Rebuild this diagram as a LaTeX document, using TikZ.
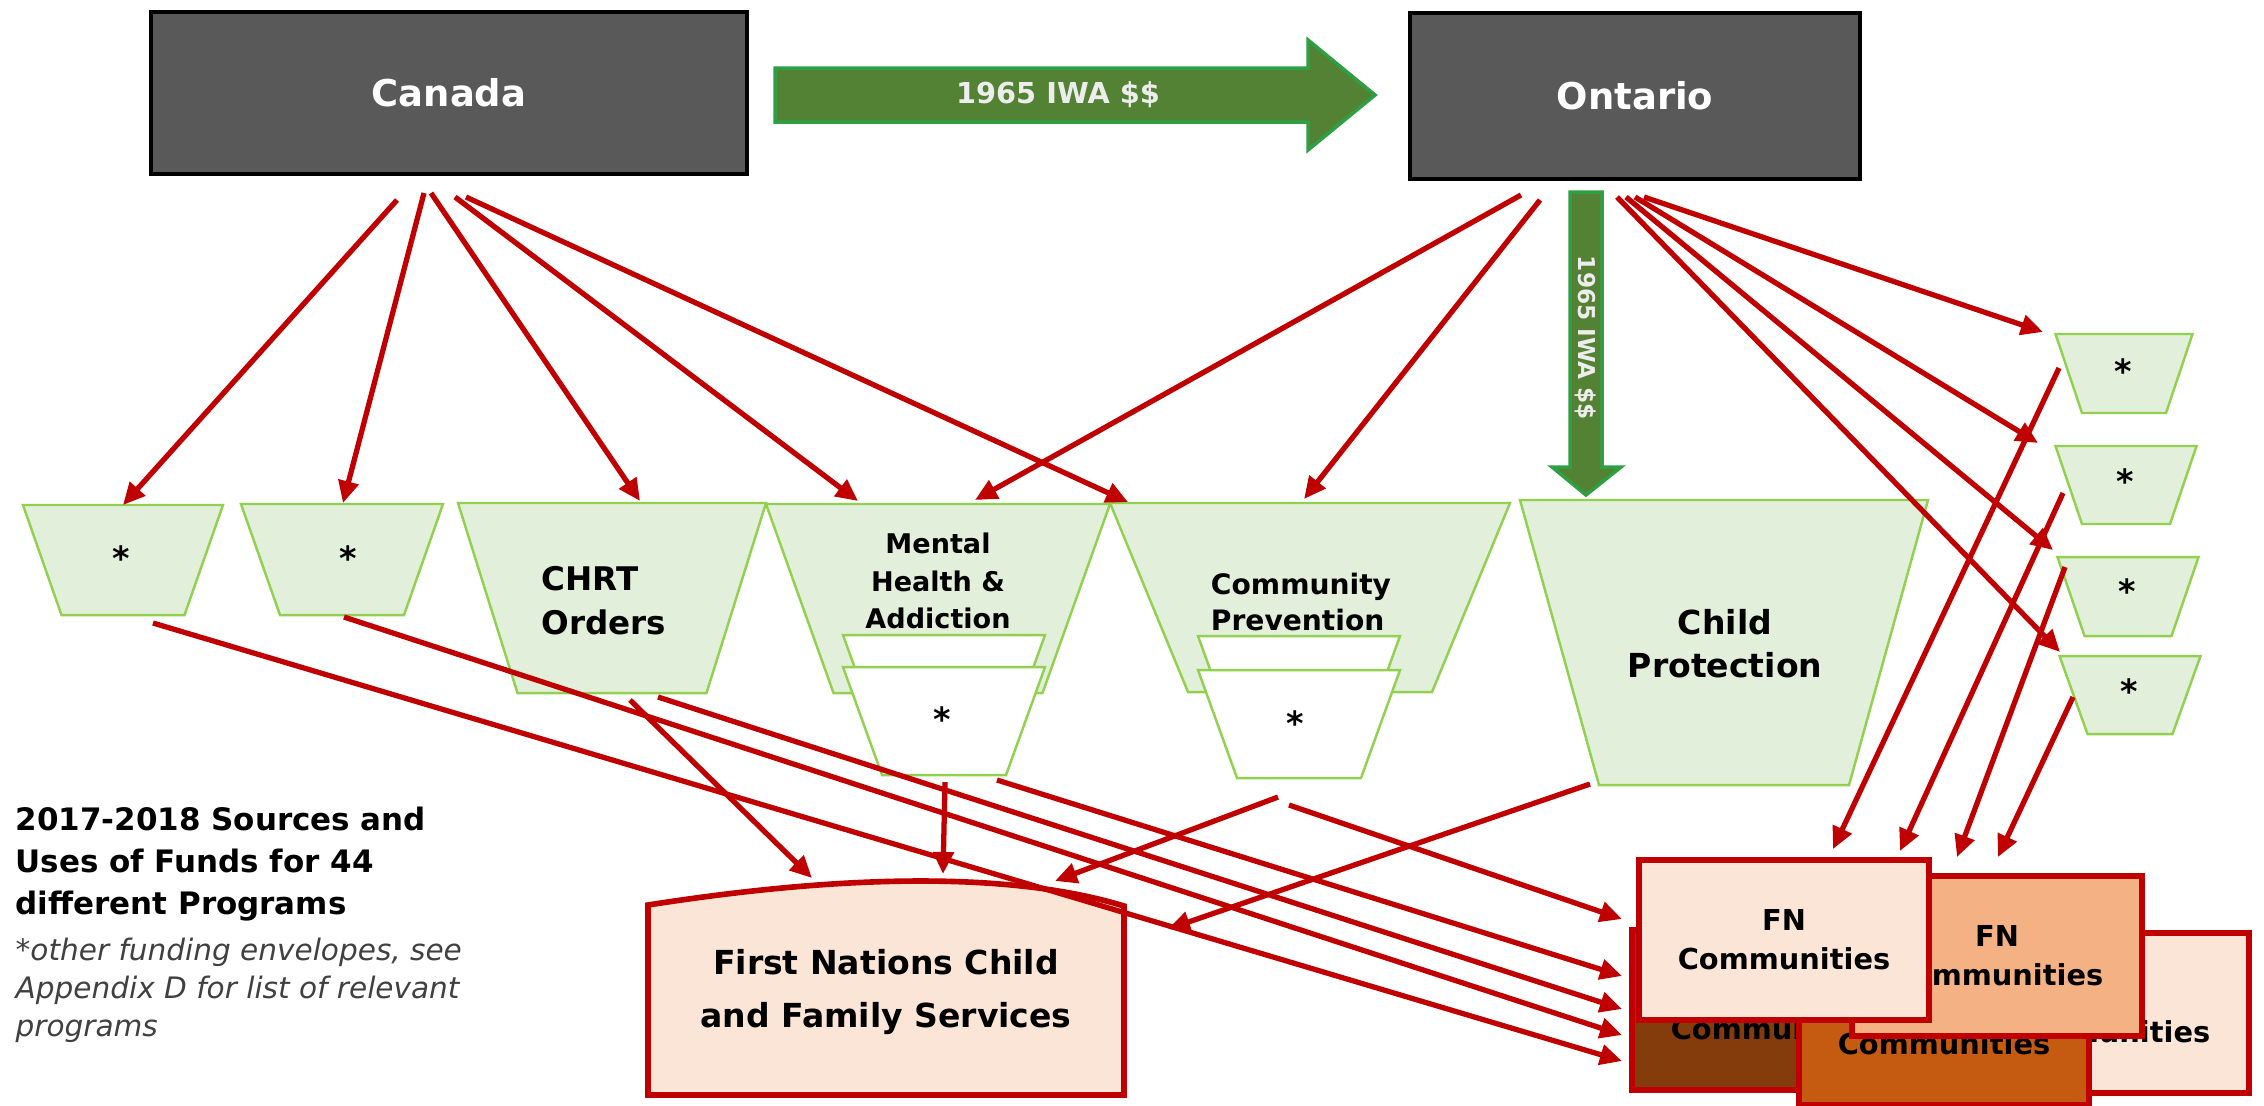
\documentclass[tikz,border=0pt]{standalone}
\usepackage{fontspec}
\setmainfont{DejaVu Sans}[BoldFont={DejaVu Sans Bold},ItalicFont={DejaVu Sans Oblique}]
\usetikzlibrary{arrows.meta}

\definecolor{flowred}{HTML}{C00000}
\definecolor{govgray}{HTML}{595959}
\definecolor{fundfill}{HTML}{E2EFDA}
\definecolor{funddraw}{HTML}{92D050}
\definecolor{iwafill}{HTML}{548235}
\definecolor{iwadraw}{HTML}{2EA043}
\definecolor{peach}{HTML}{FBE5D6}
\definecolor{apricot}{HTML}{F4B183}
\definecolor{rust}{HTML}{C55A11}
\definecolor{umber}{HTML}{843C0C}

\begin{document}
\begin{tikzpicture}[x=0.01cm,y=-0.01cm,>={Triangle[length=0.22cm,width=0.2cm]},
    flow/.style={->,draw=flowred,line width=1.5pt},
    govbox/.style={draw=black,line width=1.2pt,fill=govgray,text=white,
        minimum width=5.9cm,minimum height=1.62cm,font=\fontsize{10.5}{12}\selectfont\bfseries},
    fund/.style={draw=funddraw,line width=0.7pt,fill=fundfill},
    subfund/.style={draw=funddraw,line width=0.7pt,fill=white},
    iwa/.style={draw=iwadraw,line width=1pt,fill=iwafill},
    envmark/.style={inner sep=0,font=\fontsize{9.5}{11}\selectfont\bfseries},
    fnbox/.style={draw=flowred,line width=1.6pt,minimum width=2.9cm,minimum height=1.6cm,
        align=center,font=\fontsize{8.2}{11}\selectfont\bfseries}]
    \useasboundingbox (0,0) rectangle (2264,1105);

    % governments and the IWA transfer
    \node[govbox,minimum width=5.95cm] (canada) at (449,93) {Canada};
    \node[govbox,minimum width=4.5cm,minimum height=1.66cm] (ontario) at (1635,96) {Ontario};
    \draw[iwa] (775,68) -- (1308,68) -- (1308,40) -- (1375,95) -- (1308,150) -- (1308,122) -- (775,122) -- cycle;
    \node[text=white!93!black,font=\fontsize{8.2}{10}\selectfont\bfseries] (iwah) at (1058,95) {1965 IWA \$\$};
    \draw[iwa] (1570,192) -- (1602,192) -- (1602,467) -- (1621,467) -- (1586,495) -- (1552,467) -- (1570,467) -- cycle;
    \node[rotate=-90,text=white!93!black,font=\fontsize{6.6}{8}\selectfont\bfseries] (iwav) at (1586,338) {1965 IWA \$\$};

    % funding envelopes: centre/top/top width/bottom width/height
    \foreach \cx/\yt/\wt/\wb/\h in {123/505/200/123/110,342/504/202/124/111,612/503/308/189/190,
        938/504/344/209/189,1310/503/400/244/189,1724/500/408/250/285,2124/334/137/84/79,
        2126/446/141/88/78,2128/557/141/87/79,2130/656/141/85/78}{
        \draw[fund] (\cx-\wt/2,\yt) -- (\cx+\wt/2,\yt) -- (\cx+\wb/2,\yt+\h) -- (\cx-\wb/2,\yt+\h) -- cycle;
    }
    \foreach \cx/\yt in {944/635,944/667,1299/636,1299/670}{
        \draw[subfund] (\cx-101,\yt) -- (\cx+101,\yt) -- (\cx+62,\yt+108) -- (\cx-62,\yt+108) -- cycle;
    }
    \node[align=left,font=\fontsize{9.25}{12.5}\selectfont\bfseries] (chrt) at (604,601) {CHRT\\Orders};
    \node[align=center,font=\fontsize{7.7}{10.7}\selectfont\bfseries] (mha) at (938,581) {Mental\\Health \&\\Addiction};
    \node[align=left,font=\fontsize{8}{10.2}\selectfont\bfseries] (cpv) at (1301,602) {Community\\Prevention};
    \node[align=center,font=\fontsize{9.4}{12.2}\selectfont\bfseries] (chp) at (1725,644) {Child\\Protection};
    \foreach \n/\x/\y in {ea/121/558,eb/348/558,ec/942/719,ed/1295/723,
        ee/2123/371,ef/2125/481,eg/2127/591,eh/2129/691}{
        \node[envmark] (\n) at (\x,\y) {*};
    }

    % service providers
    \draw[draw=flowred,line width=1.6pt,fill=peach] (648,905) .. controls (820,878) and (1000,868) .. (1124,906)
        -- (1124,1095) -- (648,1095) -- cycle;
    \node[align=center,font=\fontsize{9.4}{14.8}\selectfont\bfseries] (fncfs) at (886,992) {First Nations Child\\and Family Services};
    \node[fnbox,fill=umber] (fnd) at (1777,1010) {FN\\Communities};
    \node[fnbox,fill=peach] (fne) at (2104,1013) {FN\\Communities};
    \node[fnbox,fill=rust] (fnc) at (1944,1025) {FN\\Communities};
    \node[fnbox,fill=apricot] (fnb) at (1997,956) {FN\\Communities};
    \node[fnbox,fill=peach] (fna) at (1784,940) {FN\\Communities};

    % legend
    \node[anchor=north west,align=left,inner sep=0,font=\fontsize{8.8}{11.95}\selectfont\bfseries] (srcuse)
        at (15,806) {2017-2018 Sources and\\Uses of Funds for 44\\different Programs};
    \node[anchor=north west,align=left,inner sep=0,text=black!75,font=\fontsize{8.4}{10.8}\selectfont\itshape] (envnote)
        at (15,937) {*other funding envelopes, see\\Appendix D for list of relevant\\programs};

    % flows of funds
    \foreach \n/\x/\y in {ca1/397/200,ca2/424/193,ca3/431/193,ca4/455/197,ca5/466/197,
        ta1/123/505,ta2/343/503,ta3/640/501,ta4/858/501,ta5/1128/502,
        on1/1521/195,on2/1540/200,on3/1644/197,on4/1635/197,on5/1626/197,on6/1617/197,
        tn1/975/500,tn2/1304/499,tn3/2043/332,tn4/2038/443,tn5/2053/550,tn6/2060/652,
        bf1/153/623,bf2/344/617,bc1/658/697,bm1/997/780,bp1/1289/805,
        bc2/630/700,bm2/945/782,bp2/1278/797,bk1/1590/784,
        fn1/1622/919,fn2/1622/976,fn3/1622/1009,fn4/1622/1035,fn5/1622/1061,
        fs1/812/878,fs2/943/874,fs3/1055/881,fs4/1168/929,
        rs1/2059/368,rs2/2063/493,rs3/2065/567,rs4/2073/697,
        rt1/1833/849,rt2/1900/851,rt3/1957/857,rt4/1998/857}{
        \coordinate (\n) at (\x,\y);
    }
    \foreach \a/\b in {ca1/ta1,ca2/ta2,ca3/ta3,ca4/ta4,ca5/ta5,
        on1/tn1,on2/tn2,on3/tn3,on4/tn4,on5/tn5,on6/tn6,
        bf1/fn5,bf2/fn4,bc1/fn3,bm1/fn2,bp1/fn1,
        bc2/fs1,bm2/fs2,bp2/fs3,bk1/fs4,
        rs1/rt1,rs2/rt2,rs3/rt3,rs4/rt4}{
        \draw[flow] (\a) -- (\b);
    }
\end{tikzpicture}
\end{document}
